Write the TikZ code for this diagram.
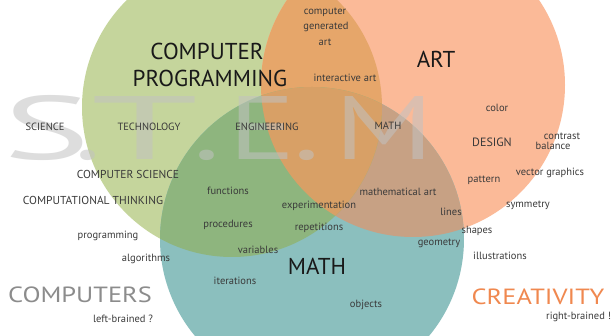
\documentclass[tikz,border=0pt]{standalone}
\usepackage{fontspec}
\setmainfont{PT Sans}
\usepackage{tikz}
\usetikzlibrary{positioning}

\definecolor{progfill}{HTML}{C5D59C}
\definecolor{artfill}{HTML}{FBBA98}
\definecolor{mathfill}{HTML}{8BBFBE}
\definecolor{progart}{HTML}{E6A66A}
\definecolor{progmath}{HTML}{8EB57E}
\definecolor{artmath}{HTML}{C7A184}
\definecolor{allthree}{HTML}{D8A066}
\definecolor{stemgray}{HTML}{C2C2C2}
\definecolor{inkgray}{HTML}{3A3A3A}
\definecolor{sidegray}{HTML}{8C8C8C}
\definecolor{sideorange}{HTML}{F0884F}

\begin{document}
\begin{tikzpicture}[
  x=1pt, y=-1pt,
  every node/.style={inner sep=0pt, anchor=base},
  note/.style={font=\fontsize{10.5}{12}\selectfont, text=inkgray},
  field/.style={font=\fontsize{10.5}{12}\selectfont, text=inkgray},
  bigfield/.style={field, font=\fontsize{11.5}{13}\selectfont},
  topic/.style={font=\fontsize{23}{27}\selectfont, text=black!90},
  side/.style={font=\fontsize{22}{26}\selectfont, xscale=1.2, transform shape},
  stemletter/.style={font=\fontsize{90}{90}\selectfont, text=stemgray, text opacity=0.55, xscale=1.4, transform shape},
]
% Canvas
\fill[white] (0,0) rectangle (614,336);
\useasboundingbox (0,0) rectangle (614,336);

% Circles
\coordinate (cprog) at (232,107);
\coordinate (cart) at (413,85);
\coordinate (cmath) at (312,239);
\fill[progfill] (cprog) circle[radius=150pt];
\fill[artfill] (cart) circle[radius=152pt];
\fill[mathfill] (cmath) circle[radius=152pt];
\begin{scope}
  \clip (cart) circle[radius=152pt];
  \fill[artmath] (cmath) circle[radius=152pt];
\end{scope}
\begin{scope}
  \clip (cprog) circle[radius=150pt];
  \fill[progart] (cart) circle[radius=152pt];
  \fill[progmath] (cmath) circle[radius=152pt];
  \clip (cart) circle[radius=152pt];
  \fill[allthree] (cmath) circle[radius=152pt];
\end{scope}

% S.T.E.M
\node[stemletter, xscale=1.3] (ls) at (47,160) {S};
\node[stemletter] (d1) at (88,160) {.};
\node[stemletter, xscale=1.53] (lt) at (145,160) {T};
\node[stemletter] (d2) at (207,160) {.};
\node[stemletter] (le) at (262,160) {E};
\node[stemletter] (d3) at (307,160) {.};
\node[stemletter] (lm) at (384,160) {M};

% Circle titles
\node[topic] (comp) at (207,60) {COMPUTER};
\node[topic] (prog) at (210,87) {PROGRAMMING};
\node[topic] (art) at (436,68) {ART};
\node[topic] (math) at (317,275) {MATH};

% Sides
\node[side, text=sidegray] (computers) at (80,303) {COMPUTERS};
\node[note] (left) at (123,322.5) {left-brained ?};
\node[side, text=sideorange] (creativity) at (538,305) {CREATIVITY};
\node[note, anchor=base west] (right) at (546,319.5) {right-brained !};

% Fields
\node[field] (science) at (45,130.5) {SCIENCE};
\node[field] (tech) at (149,130.5) {TECHNOLOGY};
\node[field] (eng) at (267,130.5) {ENGINEERING};
\node[field] (mathf) at (388,129.5) {MATH};
\node[bigfield] (cs) at (128,179) {COMPUTER SCIENCE};
\node[bigfield] (ct) at (93,205) {COMPUTATIONAL THINKING};
\node[field, font=\fontsize{12}{14}\selectfont] (design) at (492,147) {DESIGN};

% Notes
\node[note] (cga) at (325,14.5) {computer};
\node[note] (cgb) at (326,29.5) {generated};
\node[note] (cgc) at (325,45.5) {art};
\node[note] (iart) at (345,81.5) {interactive art};
\node[note] (color) at (497,111.5) {color};
\node[note] (contrast) at (562,139.5) {contrast};
\node[note] (balance) at (553,149.5) {balance};
\node[note] (func) at (228,194.5) {functions};
\node[note] (proc) at (228,227.5) {procedures};
\node[note] (progr) at (108,238.5) {programming};
\node[note] (vars) at (258,253.5) {variables};
\node[note] (algo) at (146,261.5) {algorithms};
\node[note] (iter) at (235,284.5) {iterations};
\node[note] (exper) at (319,208.5) {experimentation};
\node[note] (rep) at (319,230.5) {repetitions};
\node[note] (mart) at (398,195.5) {mathematical art};
\node[note] (lines) at (451,215.5) {lines};
\node[note] (shapes) at (477,233.5) {shapes};
\node[note] (geom) at (439,245.5) {geometry};
\node[note] (pattern) at (484,182.5) {pattern};
\node[note] (vector) at (550,175.5) {vector graphics};
\node[note] (symm) at (528,207.5) {symmetry};
\node[note] (illus) at (500,259.5) {illustrations};
\node[note] (objects) at (366,307.5) {objects};
\end{tikzpicture}
\end{document}
